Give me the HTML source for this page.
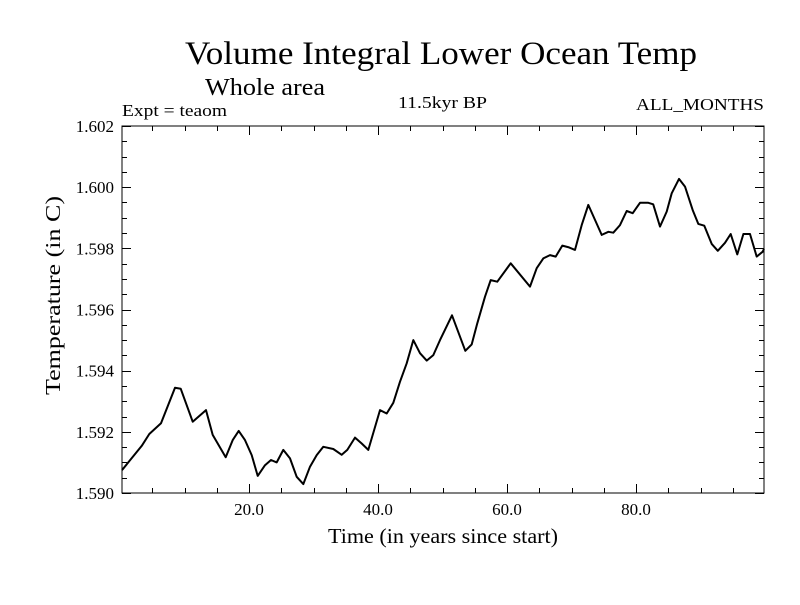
<!DOCTYPE html>
<html><head><meta charset="utf-8"><style>
body{margin:0;background:#fff;}
svg text{font-family:"Liberation Serif",serif;fill:#000;}
</style></head><body>
<svg id="chart" width="800" height="600" xmlns="http://www.w3.org/2000/svg">
<rect width="800" height="600" fill="#fff"/>
<text x="185" y="64" font-size="33" textLength="512" lengthAdjust="spacingAndGlyphs">Volume Integral Lower Ocean Temp</text>
<text x="205" y="95" font-size="24" textLength="120" lengthAdjust="spacingAndGlyphs">Whole area</text>
<text x="122" y="116" font-size="17" textLength="105" lengthAdjust="spacingAndGlyphs">Expt = teaom</text>
<text x="398" y="108" font-size="17" textLength="89" lengthAdjust="spacingAndGlyphs">11.5kyr BP</text>
<text x="636" y="110" font-size="17" textLength="128" lengthAdjust="spacingAndGlyphs">ALL_MONTHS</text>
<text x="328" y="543" font-size="21" textLength="230" lengthAdjust="spacingAndGlyphs">Time (in years since start)</text>
<text transform="translate(60,395) rotate(-90)" font-size="21" textLength="199" lengthAdjust="spacingAndGlyphs">Temperature (in C)</text>
<g id="axes"></g>
<path id="series" fill="none" stroke="#000" stroke-width="2" stroke-linejoin="round"/>
<rect x="122" y="126" width="642" height="367" fill="none" stroke="#000" stroke-width="1"/>
</svg>
<script>
const years=[0.31,3.36,4.54,6.36,8.53,9.41,11.27,13.33,14.37,16.39,17.47,18.40,19.38,20.42,21.35,22.48,23.41,24.29,25.32,26.36,27.40,28.42,29.46,30.50,31.52,33.07,34.37,35.24,36.43,37.47,38.50,40.31,41.35,42.37,43.41,44.45,45.47,46.51,47.55,48.57,49.61,51.47,53.53,54.53,55.40,56.59,57.47,58.50,60.57,63.57,64.60,65.63,66.67,67.55,68.57,69.61,70.54,71.58,72.60,73.64,74.68,75.71,76.48,77.52,78.56,79.49,80.62,81.91,82.67,83.72,84.76,85.53,86.67,87.60,88.79,89.66,90.59,91.74,92.67,93.80,94.68,95.70,96.64,97.67,98.71,99.64,99.84];
const temps=[1.59075,1.59154,1.59193,1.59228,1.59344,1.59341,1.59233,1.59271,1.59190,1.59117,1.59173,1.59203,1.59173,1.59124,1.59056,1.59091,1.59108,1.59100,1.59141,1.59113,1.59053,1.59029,1.59086,1.59124,1.59151,1.59144,1.59125,1.59141,1.59181,1.59162,1.59141,1.59271,1.59260,1.59295,1.59364,1.59424,1.59500,1.59457,1.59433,1.59451,1.59500,1.59581,1.59465,1.59486,1.59555,1.59642,1.59696,1.59691,1.59751,1.59675,1.59735,1.59767,1.59778,1.59773,1.59809,1.59803,1.59795,1.59876,1.59942,1.59893,1.59844,1.59854,1.59851,1.59876,1.59922,1.59915,1.59949,1.59949,1.59944,1.59871,1.59920,1.59980,1.60027,1.60002,1.59925,1.59880,1.59874,1.59814,1.59792,1.59818,1.59847,1.59780,1.59847,1.59847,1.59773,1.59789,1.59798];
const yTickValues=[1.590,1.592,1.594,1.596,1.598,1.600,1.602];
const yTickLabels=["1.590","1.592","1.594","1.596","1.598","1.600","1.602"];
const xTickValues=[20,40,60,80];
const xTickLabels=["20.0","40.0","60.0","80.0"];

const L=122,R=764,T=126,B=493;
const X0=0.31,X1=99.84,Y0=1.590,Y1=1.602;
const sx=v=>L+(v-X0)/(X1-X0)*(R-L);
const sy=v=>B-(v-Y0)/(Y1-Y0)*(B-T);
const NS="http://www.w3.org/2000/svg";
const g=document.getElementById('axes');
function line(x1,y1,x2,y2,name){
  const l=document.createElementNS(NS,'line');
  l.setAttribute('x1',x1);l.setAttribute('y1',y1);l.setAttribute('x2',x2);l.setAttribute('y2',y2);
  l.setAttribute('stroke','#000');l.setAttribute('stroke-width','1');
  
  
  g.appendChild(l);
}
function text(x,y,s,anchor,name){
  const t=document.createElementNS(NS,'text');
  t.setAttribute('x',x);t.setAttribute('y',y);t.setAttribute('font-size','17');t.setAttribute('text-anchor',anchor);
  t.textContent=s;
  
  
  g.appendChild(t);
}
for(let v=Y0;v<=Y1+1e-9;v+=0.0005){
  const y=Math.round(sy(v))+0.5;
  const major=Math.abs((v-Y0)/0.002-Math.round((v-Y0)/0.002))<1e-6;
  const len=major?9:5;
  line(L,y,L+len,y,'y-tick');
  line(R-len,y,R,y,'y-tick-right');
}
yTickValues.forEach((v,i)=>text(114,sy(v)+6,yTickLabels[i],'end','y-tick-label'));
for(let v=5;v<X1;v+=5){
  const x=Math.round(sx(v))+0.5;
  const len=(v%20===0)?9:5;
  line(x,B,x,B-len,'x-tick');
  line(x,T,x,T+len,'x-tick-top');
}
xTickValues.forEach((v,i)=>text(sx(v),B+22,xTickLabels[i],'middle','x-tick-label'));
let d='';
years.forEach((yr,i)=>{d+=(i?'L':'M')+sx(yr).toFixed(1)+' '+sy(temps[i]).toFixed(1);});
document.getElementById('series').setAttribute('d',d);
</script>
</body></html>
